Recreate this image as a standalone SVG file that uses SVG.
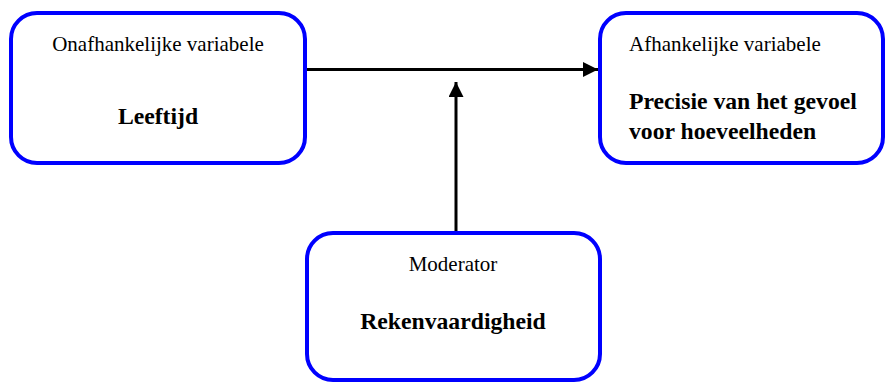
<svg xmlns="http://www.w3.org/2000/svg" width="886" height="382" viewBox="0 0 886 382">
<style>
.box{fill:#fff;stroke:#0000ff;stroke-width:4}
text{font-family:'Liberation Serif','Times New Roman','DejaVu Serif',serif;fill:#000}
.t{font-size:21px}
.b{font-size:23.7px;font-weight:bold}
.c{stroke:#000;stroke-width:3;fill:none}
</style>
<defs>
<marker id="ah" viewBox="0 0 10 10" refX="10" refY="5" markerWidth="5" markerHeight="5" markerUnits="strokeWidth" orient="auto">
<path d="M0,0 L10,5 L0,10 z" fill="#000"/>
</marker>
</defs>
<rect width="886" height="382" fill="#fff"/>
<g id="connectors">
<line class="c" x1="307" y1="69.5" x2="598" y2="69.5" marker-end="url(#ah)"/>
<line class="c" x1="456" y1="233" x2="456" y2="82" marker-end="url(#ah)"/>
</g>
<g id="onafhankelijk">
<rect class="box" x="11" y="13" width="294" height="150" rx="26"/>
<text class="t" x="158" y="51" text-anchor="middle" font-family="Liberation Serif, serif">Onafhankelijke variabele</text>
<text class="b" x="158" y="124" text-anchor="middle" font-family="Liberation Serif, serif">Leeftijd</text>
</g>
<g id="afhankelijk">
<rect class="box" x="600" y="13" width="283" height="150" rx="26"/>
<text class="t" x="629" y="51" font-family="Liberation Serif, serif">Afhankelijke variabele</text>
<text class="b" x="629" y="109" font-family="Liberation Serif, serif">Precisie van het gevoel</text>
<text class="b" x="629" y="139" font-family="Liberation Serif, serif">voor hoeveelheden</text>
</g>
<g id="moderator">
<rect class="box" x="307" y="233" width="293" height="147" rx="26"/>
<text class="t" x="453" y="271" text-anchor="middle" font-family="Liberation Serif, serif">Moderator</text>
<text class="b" x="453" y="329" text-anchor="middle" font-family="Liberation Serif, serif">Rekenvaardigheid</text>
</g>
</svg>
